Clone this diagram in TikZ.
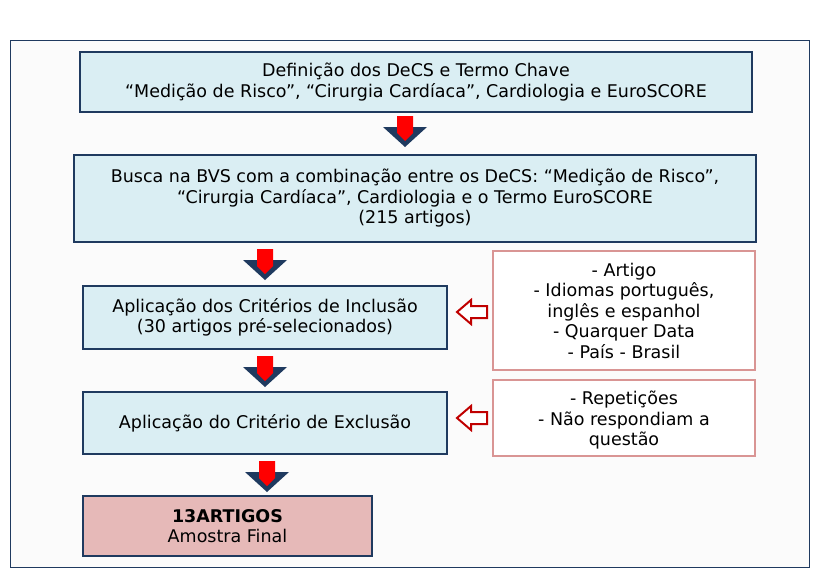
\documentclass[tikz,border=0pt]{standalone}
\usepackage{fontspec}
\setmainfont{DejaVu Sans}
\definecolor{boxfill}{HTML}{DAEEF3}
\definecolor{boxline}{HTML}{1F3A5F}
\definecolor{pinkfill}{HTML}{E6B9B8}
\definecolor{pinkline}{HTML}{D99594}
\definecolor{navy}{HTML}{1F3A5F}
\definecolor{darkred}{HTML}{C00000}
\begin{document}
\begin{tikzpicture}[x=1pt,y=-1pt,
  txt/.style={align=center,font=\fontsize{17.5}{20.5}\selectfont,inner sep=0pt},
  box/.style={txt,draw=boxline,line width=2.5pt,fill=boxfill},
  rbox/.style={draw=pinkline,line width=2.5pt,fill=white,inner sep=0pt},
  dn/.pic={\fill[navy] (-22,11)--(22,11)--(0,31)--cycle;
           \fill[red] (-8,0)--(8,0)--(8,17)--(0,25)--(-8,17)--cycle;},
  lf/.pic={\draw[darkred,fill=white,line width=2pt,line join=miter] (0,0)--(14,-12)--(14,-6)--(30,-6)--(30,6)--(14,6)--(14,12)--cycle;}]
\useasboundingbox (0,0) rectangle (820,581);
\fill[white] (0,0) rectangle (820,581);
\draw[navy,line width=1pt,fill=white!97!gray] (10,40) rectangle (809,567);
\node[box,minimum width=672pt,minimum height=60pt] (b1) at (416,82) {Definição dos DeCS e Termo Chave\\“Medição de Risco”, “Cirurgia Cardíaca”, Cardiologia e EuroSCORE};
\node[box,minimum width=682pt,minimum height=87pt] (b2) at (415,198.5) {Busca na BVS com a combinação entre os DeCS: “Medição de Risco”,\\“Cirurgia Cardíaca”, Cardiologia e o Termo EuroSCORE\\(215 artigos)};
\node[box,minimum width=364pt,minimum height=63pt] (b3) at (265,317.5) {Aplicação dos Critérios de Inclusão\\(30 artigos pré-selecionados)};
\node[box,minimum width=364pt,minimum height=62pt] (b4) at (265,423) {Aplicação do Critério de Exclusão};
\node[box,fill=pinkfill,minimum width=289pt,minimum height=60pt] (b5) at (227.5,526) {\textbf{13ARTIGOS}\\Amostra Final};
\node[rbox,txt,minimum width=262pt,minimum height=119pt] (r1) at (624,310.5) {- Artigo\\- Idiomas português,\\inglês e espanhol\\- Quarquer Data\\- País - Brasil};
\node[rbox,minimum width=262pt,minimum height=76pt] (r2) at (624,418) {};
\node[txt,anchor=north] (r2t) at (624,391) {- Repetições\\- Não respondiam a\\questão};
\pic at (405,116) {dn};
\pic at (265,249) {dn};
\pic at (265,356) {dn};
\pic at (267,461) {dn};
\pic at (457,312) {lf};
\pic at (457,418) {lf};
\end{tikzpicture}
\end{document}
